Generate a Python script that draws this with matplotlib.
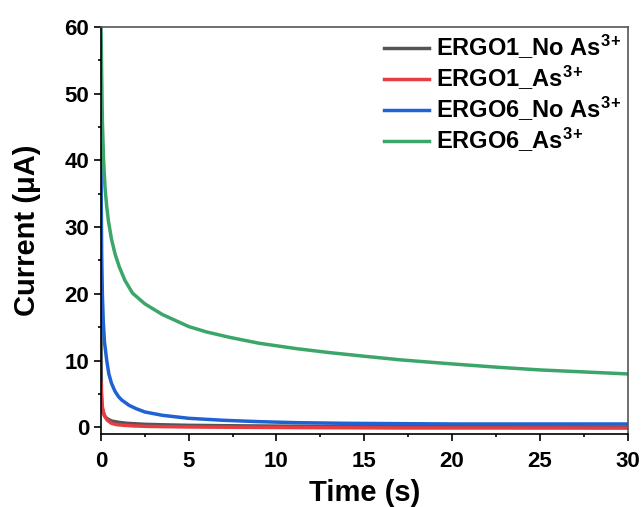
import matplotlib
matplotlib.use("Agg")
from matplotlib import pyplot
from matplotlib.ticker import MultipleLocator

pyplot.rcParams["font.family"] = ["Liberation Sans", "DejaVu Sans"]
pyplot.rcParams["font.weight"] = "bold"
pyplot.rcParams["mathtext.fontset"] = "custom"
pyplot.rcParams["mathtext.rm"] = "Liberation Sans:bold"
pyplot.rcParams["mathtext.bf"] = "Liberation Sans:bold"
pyplot.rcParams["mathtext.default"] = "bf"

# values (time in s, current in uA)
ergo1_no_t = [0.0, 0.01, 0.03, 0.06, 0.1, 0.2, 0.35, 0.6, 1.0, 1.5, 2.5, 4, 5, 8, 12, 17, 22, 30]
ergo1_no_i = [24, 10, 5, 3.3, 2.5, 1.7, 1.3, 0.95, 0.75, 0.6, 0.45, 0.35, 0.3, 0.22, 0.15, 0.1, 0.08, 0.05]

ergo1_as_t = [0.0, 0.02, 0.05, 0.08, 0.15, 0.23, 0.35, 0.6, 0.9, 1.3, 1.9, 3, 5, 8, 12, 17, 22, 30]
ergo1_as_i = [6.6, 5.2, 3.9, 3.0, 2.2, 1.6, 1.1, 0.6, 0.4, 0.3, 0.2, 0.12, 0.05, 0.0, -0.05, -0.1, -0.1, -0.12]

ergo6_no_t = [0.0, 0.02, 0.04, 0.08, 0.13, 0.2, 0.33, 0.45, 0.6, 0.8, 1.0, 1.18, 1.6, 2.0, 2.5, 3.5, 5,
              7, 9, 11.1, 14, 17, 20, 25, 30]
ergo6_no_i = [42, 33, 26, 20, 16, 12.8, 10, 8.0, 6.6, 5.4, 4.6, 4.1, 3.3, 2.8, 2.3, 1.8, 1.35,
              1.05, 0.85, 0.7, 0.6, 0.55, 0.5, 0.5, 0.5]

ergo6_as_t = [0.0, 0.02, 0.04, 0.08, 0.15, 0.23, 0.32, 0.42, 0.6, 0.8, 1.05, 1.37, 1.8, 2.5, 3.5, 5,
              6, 7.3, 9, 11.1, 13, 15, 17.1, 20, 22.6, 25, 27.5, 30]
ergo6_as_i = [61, 57, 53, 46, 40, 36, 33.3, 31, 28.2, 26, 24, 22, 20.1, 18.5, 16.9, 15.1,
              14.3, 13.5, 12.6, 11.8, 11.2, 10.65, 10.1, 9.5, 9.0, 8.6, 8.3, 8.0]

labels = [
    r"ERGO1_No As$^{3}$$^{+}$",
    r"ERGO1_As$^{3}$$^{+}$",
    r"ERGO6_No As$^{3}$$^{+}$",
    r"ERGO6_As$^{3}$$^{+}$",
]
colors = ["#555555", "#e63c42", "#1e62d4", "#3ca66a"]

fig = pyplot.figure(figsize=(6.43, 5.07), dpi=100)
ax = fig.add_axes([0.157, 0.144, 0.819, 0.803])

series = [
    (ergo1_no_t, ergo1_no_i),
    (ergo1_as_t, ergo1_as_i),
    (ergo6_no_t, ergo6_no_i),
    (ergo6_as_t, ergo6_as_i),
]
for (t, i), label, color in zip(series, labels, colors):
    ax.plot(t, i, color=color, lw=2.5, label=label)

ax.set_xlim(0, 30)
ax.set_ylim(-1, 60)
ax.xaxis.set_major_locator(MultipleLocator(5))
ax.xaxis.set_minor_locator(MultipleLocator(2.5))
ax.yaxis.set_major_locator(MultipleLocator(10))
ax.yaxis.set_minor_locator(MultipleLocator(5))
ax.tick_params(which="major", direction="out", length=5, width=1.2, labelsize=16)
ax.tick_params(which="minor", direction="out", length=2.5, width=1.2)
ax.tick_params(axis="x", which="major", pad=7)
for spine in ax.spines.values():
    spine.set_linewidth(1.2)
ax.spines["top"].set_color("#555555")
ax.spines["right"].set_color("#555555")

ax.set_xlabel("Time (s)", fontsize=21, fontweight="bold", labelpad=5)
ax.set_ylabel("Current (\u03bcA)", fontsize=21, fontweight="bold", labelpad=17)

ax.legend(
    loc="upper left",
    bbox_to_anchor=(0.537, 0.985),
    frameon=False,
    fontsize=17,
    handlelength=1.9,
    handletextpad=0.3,
    labelspacing=0.12,
    borderpad=0,
    borderaxespad=0,
)

pyplot.savefig("out.png", dpi=100)
